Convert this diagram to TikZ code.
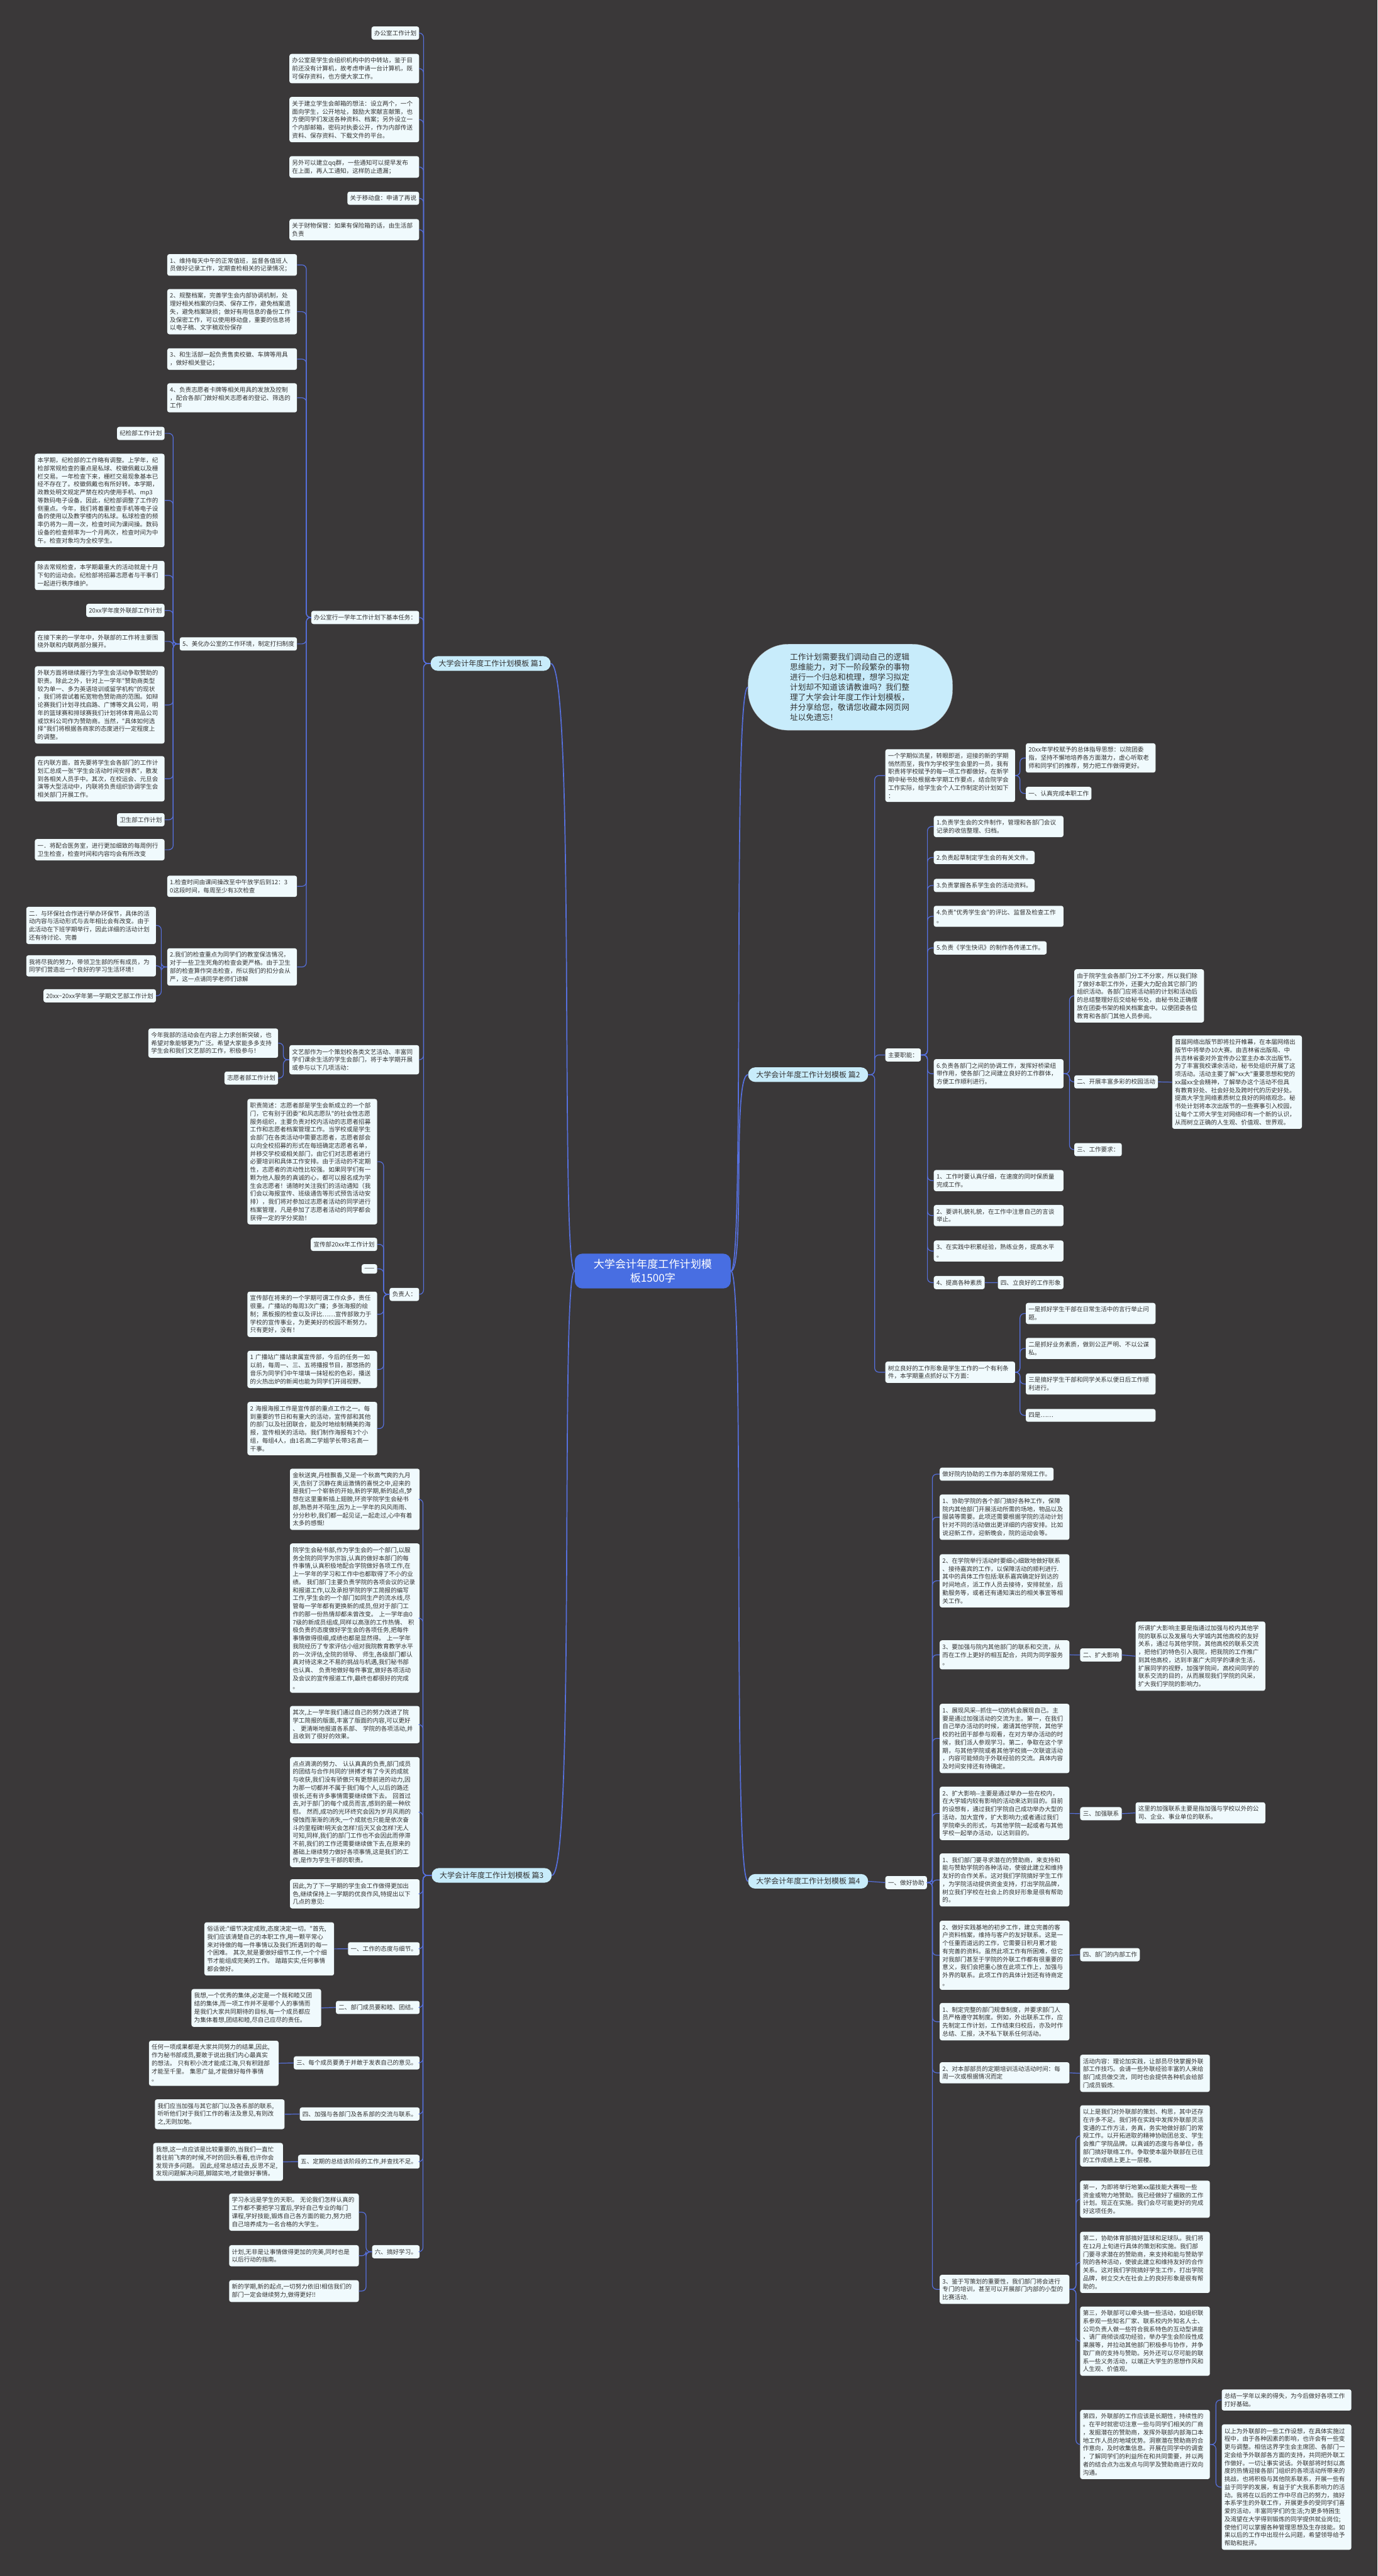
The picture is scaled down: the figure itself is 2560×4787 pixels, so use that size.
\documentclass[tikz,border=0pt]{standalone}
\usepackage{fontspec}
\newfontfamily\cjk{Noto Sans CJK SC}
\usepackage{tikz}
\usetikzlibrary{calc}
\definecolor{bgDark}{RGB}{58,56,57}
\definecolor{leafFill}{RGB}{240,250,253}
\definecolor{branchFill}{RGB}{200,236,251}
\definecolor{rootBlue}{RGB}{72,110,226}
\definecolor{linkBlue}{RGB}{86,112,222}
\definecolor{inkGray}{RGB}{51,51,51}

\begin{document}
\begin{tikzpicture}[x=1pt, y=-1pt,
  leaf/.style={fill=leafFill, text=inkGray, rounded corners=4pt, inner xsep=5pt, inner ysep=7pt,
    align=left, font=\cjk\fontsize{11.2}{14.9}\selectfont},
  para/.style={leaf, text width=231pt},
  branch/.style={fill=branchFill, text=inkGray, rounded corners=13pt, inner xsep=15pt, inner ysep=7pt,
    font=\cjk\fontsize{14}{17}\selectfont},
  root/.style={fill=rootBlue, text=white, rounded corners=14pt, inner xsep=35pt, inner ysep=10pt,
    align=center, font=\cjk\fontsize{20}{26}\selectfont},
  bubble/.style={fill=branchFill, draw=gray!60, text=inkGray, rounded corners=75pt, text width=224pt,
    inner xsep=78pt, inner ysep=17pt, align=left, font=\cjk\fontsize{14.8}{18.7}\selectfont},
  link/.style={draw=linkBlue, line width=1.4pt, rounded corners=8pt},
  mainlink/.style={draw=linkBlue, line width=2pt}]

  \fill[bgDark] (0,0) rectangle (2560,4787);

  % Root, intro and the four branches
  \node[root] (cn) at (1213,2362) {大学会计年度工作计划模\\板1500字};
  \node[bubble] (bub) at (1580,1277) {工作计划需要我们调动自己的逻辑\\思维能力，对下一阶段繁杂的事物\\进行一个归总和梳理，想学习拟定\\计划却不知道该请教谁吗？我们整\\理了大学会计年度工作计划模板，\\并分享给您，敬请您收藏本网页网\\址以免遗忘！};
  \node[branch, anchor=west] (b1) at (800,1233) {大学会计年度工作计划模板 篇1};
  \node[branch, anchor=west] (b2) at (1390,1997) {大学会计年度工作计划模板 篇2};
  \node[branch, anchor=west] (b3) at (802,3485) {大学会计年度工作计划模板 篇3};
  \node[branch, anchor=west] (b4) at (1390,3496) {大学会计年度工作计划模板 篇4};

  % Branch 1: office
  \node[leaf, anchor=north east] (o1) at (779,49) {办公室工作计划};
  \node[para, anchor=north east] (o2) at (779,100) {办公室是学生会组织机构中的中转站，鉴于目\\前还没有计算机，故考虑申请一台计算机，既\\可保存资料，也方便大家工作。};
  \node[para, anchor=north east] (o3) at (779,180) {关于建立学生会邮箱的想法：设立两个，一个\\面向学生，公开地址，鼓励大家献言献策，也\\方便同学们发送各种资料、档案；另外设立一\\个内部邮箱，密码对执委公开，作为内部传送\\资料、保存资料、下载文件的平台。};
  \node[para, anchor=north east] (o4) at (779,290) {另外可以建立qq群，一些通知可以提早发布\\在上面，再人工通知，这样防止遗漏；};
  \node[leaf, anchor=north east] (o5) at (779,356) {关于移动盘：申请了再说};
  \node[para, anchor=north east] (o6) at (779,407) {关于财物保管：如果有保险箱的话，由生活部\\负责};
  \node[leaf, anchor=north east] (o7) at (779,1135) {办公室行一学年工作计划下基本任务：};
  \node[para, anchor=north east] (o8) at (779,1942) {文艺部作为一个策划校各类文艺活动、丰富同\\学们课余生活的学生会部门，将于本学期开展\\或参与以下几项活动：};
  \node[leaf, anchor=north east] (o9) at (779,2393) {负责人：};

  \node[para, anchor=north east] (t1) at (552,472) {1、维持每天中午的正常值班，监督各值班人\\员做好记录工作，定期查检相关的记录情况；};
  \node[para, anchor=north east] (t2) at (552,537) {2、规整档案，完善学生会内部协调机制，处\\理好相关档案的归类、保存工作，避免档案遗\\失，避免档案缺损；做好有用信息的备份工作\\及保密工作，可以使用移动盘，重要的信息将\\以电子稿、文字稿双份保存};
  \node[para, anchor=north east] (t3) at (552,647) {3、和生活部一起负责售卖校徽、车牌等用具\\，做好相关登记；};
  \node[para, anchor=north east] (t4) at (552,712) {4、负责志愿者卡牌等相关用具的发放及控制\\，配合各部门做好相关志愿者的登记、筛选的\\工作};
  \node[leaf, anchor=north east] (t5) at (552,1184) {5、美化办公室的工作环境，制定打扫制度};
  \node[para, anchor=north east] (t6) at (552,1627) {1.检查时间由课间操改至中午放学后到12：3\\0这段时间，每周至少有3次检查};
  \node[para, anchor=north east] (t7) at (552,1762) {2.我们的检查重点为同学们的教室保洁情况，\\对于一些卫生死角的检查会更严格。由于卫生\\部的检查算作突击检查，所以我们的扣分会从\\严，这一点请同学老师们谅解};

  \node[leaf, anchor=north east] (f1) at (306,793) {纪检部工作计划};
  \node[para, anchor=north east] (f2) at (306,843) {本学期，纪检部的工作略有调整。上学年，纪\\检部常规检查的重点是私球、校徽佩戴以及栅\\栏交易。一年检查下来，栅栏交易现象基本已\\经不存在了。校徽佩戴也有所好转。本学期，\\政教处明文规定严禁在校内使用手机、mp3\\等数码电子设备。因此，纪检部调整了工作的\\侧重点。今年，我们将着重检查手机等电子设\\备的使用以及教学楼内的私球。私球检查的频\\率仍将为一周一次，检查时间为课间操。数码\\设备的检查频率为一个月两次，检查时间为中\\午。检查对象均为全校学生。};
  \node[para, anchor=north east] (f3) at (306,1042) {除去常规检查，本学期最重大的活动就是十月\\下旬的运动会。纪检部将招募志愿者与干事们\\一起进行秩序维护。};
  \node[leaf, anchor=north east] (f4) at (306,1122) {20xx学年度外联部工作计划};
  \node[para, anchor=north east] (f5) at (306,1172) {在接下来的一学年中，外联部的工作将主要围\\绕外联和内联两部分展开。};
  \node[para, anchor=north east] (f6) at (306,1238) {外联方面将继续履行为学生会活动争取赞助的\\职责。除此之外，针对上一学年"赞助商类型\\较为单一、多为英语培训或留学机构"的现状\\，我们将尝试着拓宽物色赞助商的范围。如辩\\论赛我们计划寻找启路、广博等文具公司，明\\年的篮球赛和排球赛我们计划将体育用品公司\\或饮料公司作为赞助商。当然，"具体如何选\\择"我们将根据各商家的态度进行一定程度上\\的调整。};
  \node[para, anchor=north east] (f7) at (306,1405) {在内联方面，首先要将学生会各部门的工作计\\划汇总成一张"学生会活动时间安排表"，散发\\到各相关人员手中。其次，在校运会、元旦会\\演等大型活动中，内联将负责组织协调学生会\\相关部门开展工作。};
  \node[leaf, anchor=north east] (f8) at (306,1511) {卫生部工作计划};
  \node[para, anchor=north east] (f9) at (306,1559) {一．将配合医务室，进行更加细致的每周例行\\卫生检查，检查时间和内容均会有所改变};

  \node[para, anchor=north east] (w1) at (290,1685) {二．与环保社合作进行举办环保节，具体的活\\动内容与活动形式与去年相比会有改变。由于\\此活动在下班学期举行，因此详细的活动计划\\还有待讨论、完善};
  \node[para, anchor=north east] (w2) at (290,1775) {我将尽我的努力，带领卫生部的所有成员，为\\同学们营造出一个良好的学习生活环境！};
  \node[leaf, anchor=north east] (w3) at (290,1838) {20xx\textasciitilde 20xx学年第一学期文艺部工作计划};

  \node[para, anchor=north east] (v1) at (517,1911) {今年我部的活动会在内容上力求创新突破，也\\希望对象能够更为广泛。希望大家能多多支持\\学生会和我们文艺部的工作，积极参与！};
  \node[leaf, anchor=north east] (v2) at (517,1991) {志愿者部工作计划};

  \node[para, anchor=north east] (r1) at (701,2042) {职责简述：志愿者部是学生会新成立的一个部\\门，它有别于团委"和风志愿队"的社会性志愿\\服务组织，主要负责对校内活动的志愿者招募\\工作和志愿者档案管理工作。当学校或是学生\\会部门在各类活动中需要志愿者，志愿者部会\\以向全校招募的形式在每班确定志愿者名单，\\并移交学校或相关部门，由它们对志愿者进行\\必要培训和具体工作安排。由于活动的不定期\\性，志愿者的流动性比较强。如果同学们有一\\颗为他人服务的真诚的心，都可以报名成为学\\生会志愿者！请随时关注我们的活动通知（我\\们会以海报宣传、班级通告等形式预告活动安\\排），我们将对参加过志愿者活动的同学进行\\档案管理，凡是参加了志愿者活动的同学都会\\获得一定的学分奖励！};
  \node[leaf, anchor=north east] (r2) at (701,2300) {宣传部20xx年工作计划};
  \node[leaf, anchor=north east] (r3) at (701,2349) {——};
  \node[para, anchor=north east] (r4) at (701,2400) {宣传部在将来的一个学期可谓工作众多，责任\\很重。广播站的每周3次广播；多张海报的绘\\制；黑板报的检查以及评比……宣传部致力于\\学校的宣传事业，为更美好的校园不断努力。\\只有更好，没有！};
  \node[para, anchor=north east] (r5) at (701,2510) {1 广播站广播站隶属宣传部，今后的任务一如\\以前，每周一、三、五将播报节目，那悠扬的\\音乐为同学们中午增填一抹轻松的色彩，播送\\的火热出炉的新闻也能为同学们开阔视野。};
  \node[para, anchor=north east] (r6) at (701,2605) {2 海报海报工作是宣传部的重点工作之一。每\\到重要的节日和有重大的活动，宣传部和其他\\的部门以及社团联合，能及时地绘制精美的海\\报，宣传相关的活动。我们制作海报有3个小\\组，每组4人，由1名高二学姐学长带3名高一\\干事。};

  % Branch 3: secretariat
  \node[para, anchor=north east] (s1) at (780,2729) {金秋送爽,丹桂飘香,又是一个秋高气爽的九月\\天,告别了沉静在奥运激情的喜悦之中,迎来的\\是我们一个崭新的开始,新的学期,新的起点,梦\\想在这里重新插上翅膀,环资学院学生会秘书\\部,熟悉并不陌生,因为上一学年的风风雨雨、\\分分秒秒,我们都一起见证,一起走过,心中有着\\太多的感慨!};
  \node[para, anchor=north east] (s2) at (780,2868) {院学生会秘书部,作为学生会的一个部门,以服\\务全院的同学为宗旨,认真的做好本部门的每\\件事情,认真积极地配合学院做好各项工作,在\\上一学年的学习和工作中也都取得了不小的业\\绩。 我们部门主要负责学院的各项会议的记录\\和报道工作,以及承担学院的学工简报的编写\\工作,学生会的一个部门如同生产的流水线,尽\\管每一学年都有更换新的成员,但对于部门工\\作的那一份热情却都未曾改变。 上一学年由0\\7级的新成员组成,同样以高涨的工作热情、 积\\极负责的态度做好学生会的各项任务,把每件\\事情做得很细,成绩也都是显然得。 上一学年\\我院经历了专家评估小组对我院教育教学水平\\的一次评估,全院的领导、 师生,各级部门都认\\真对待这来之不易的挑战与机遇,我们秘书部\\也认真、 负责地做好每件事宜,做好各项活动\\及会议的宣传报道工作,最终也都很好的完成\\。};
  \node[para, anchor=north east] (s3) at (780,3170) {其次,上一学年我们通过自己的努力改进了院\\学工简报的版面,丰富了版面的内容,可以更好\\、 更清晰地报道各系部、 学院的各项活动,并\\且收到了很好的效果。};
  \node[para, anchor=north east] (s4) at (780,3265) {点点滴滴的努力、 认认真真的负责,部门成员\\的团结与合作共同的'拼搏才有了今天的成就\\与收获,我们没有骄傲只有更想前进的动力,因\\为那一切都并不属于我们每个人,以后的路还\\很长,还有许多事情需要继续做下去。 回首过\\去,对于部门的每个成员而言,感到的是一种欣\\慰。 然而,成功的光环终究会因为岁月风雨的\\侵蚀而渐渐的消失,一个成就也只能是依次奋\\斗的里程碑!明天会怎样?后天又会怎样?无人\\可知,同样,我们的部门工作也不会因此而停滞\\不前,我们的工作还需要继续做下去,在原来的\\基础上继续努力做好各项事情,这是我们的工\\作,是作为学生干部的职责。};
  \node[para, anchor=north east] (s5) at (780,3492) {因此,为了下一学期的学生会工作做得更加出\\色,继续保持上一学期的优良作风,特提出以下\\几点的意见:};
  \node[leaf, anchor=north east] (s6) at (780,3609) {一、工作的态度与细节。};
  \node[leaf, anchor=north east] (s7) at (780,3718) {二、部门成员要和睦、团结。};
  \node[leaf, anchor=north east] (s8) at (780,3821) {三、每个成员要勇于并敢于发表自己的意见。};
  \node[leaf, anchor=north east] (s9) at (780,3916) {四、加强与各部门及各系部的交流与联系。};
  \node[leaf, anchor=north east] (s10) at (780,4004) {五、定期的总结该阶段的工作,并查找不足。};
  \node[leaf, anchor=north east] (s11) at (780,4172) {六、搞好学习。};

  \node[para, anchor=north east] (g6) at (621,3572) {俗话说:"细节决定成败,态度决定一切。"首先,\\我们应该清楚自己的本职工作,用一颗平常心\\来对待做的每一件事情以及我们所遇到的每一\\个困难。 其次,就是要做好细节工作,一个个细\\节才能组成完美的工作。 踏踏实实,任何事情\\都会做好。};
  \node[para, anchor=north east] (g7) at (597,3696) {我想,一个优秀的集体,必定是一个既和睦又团\\结的集体,而一项工作并不是哪个人的事情而\\是我们大家共同期待的目标,每一个成员都应\\为集体着想,团结和睦,尽自己应尽的责任。};
  \node[para, anchor=north east] (g8) at (518,3792) {任何一项成果都是大家共同努力的结果,因此,\\作为秘书部成员,要敢于说出我们内心最真实\\的想法。 只有积小流才能成江海,只有积跬部\\才能至千里。 集思广益,才能做好每件事情\\。};
  \node[para, anchor=north east] (g9) at (529,3901) {我们应当加强与其它部门以及各系部的联系,\\听听他们对于我们工作的看法及意见,有则改\\之,无则加勉。};
  \node[para, anchor=north east] (g10) at (526,3982) {我想,这一点应该是比较重要的,当我们一直忙\\着往前飞奔的时候,不时的回头看看,也许你会\\发现许多问题。 因此,经常总结过去,反思不足,\\发现问题解决问题,脚踏实地,才能做好事情。};
  \node[para, anchor=north east] (h1) at (667,4076) {学习永远是学生的天职。 无论我们怎样认真的\\工作都不要把学习置后,学好自己专业的每门\\课程,学好技能,锻炼自己各方面的能力,努力把\\自己培养成为一名合格的大学生。};
  \node[para, anchor=north east] (h2) at (667,4172) {计划,无非是让事情做得更加的完美,同时也是\\以后行动的指南。};
  \node[para, anchor=north east] (h3) at (667,4237) {新的学期,新的起点,一切努力依旧!相信我们的\\部门一定会继续努力,做得更好!!};

  % Branch 2: secretary office duties
  \node[para, anchor=north west] (p1) at (1645,1392) {一个学期似流星，转眼即逝，迎接的新的学期\\悄然而至，我作为学校学生会里的一员，我有\\职责将学校赋予的每一项工作都做好。在新学\\期中秘书处根据本学期工作要点，结合院学会\\工作实际，给学生会个人工作制定的计划如下\\：};
  \node[leaf, anchor=north west] (p2) at (1645,1948) {主要职能：};
  \node[para, anchor=north west] (p3) at (1645,2530) {树立良好的工作形象是学生工作的一个有利条\\件，本学期重点抓好以下方面：};

  \node[para, anchor=north west] (q1) at (1906,1381) {20xx年学校赋予的总体指导思想：以院团委\\指，坚持不懈地培养各方面潜力，虚心听取老\\师和同学们的推荐，努力把工作做得更好。};
  \node[leaf, anchor=north west] (q2) at (1906,1462) {一、认真完成本职工作};

  \node[para, anchor=north west] (m1) at (1735,1516) {1.负责学生会的文件制作，管理和各部门会议\\记录的收信整理、归档。};
  \node[leaf, anchor=north west] (m2) at (1735,1581) {2.负责起草制定学生会的有关文件。};
  \node[leaf, anchor=north west] (m3) at (1735,1633) {3.负责掌握各系学生会的活动资料。};
  \node[para, anchor=north west] (m4) at (1735,1683) {4.负责"优秀学生会"的评比、监督及检查工作\\。};
  \node[leaf, anchor=north west] (m5) at (1735,1749) {5.负责《学生快讯》的制作各传递工作。};
  \node[para, anchor=north west] (m6) at (1735,1968) {6.负责各部门之间的协调工作，发挥好桥梁纽\\带作用，使各部门之间建立良好的工作群体，\\方便工作顺利进行。};
  \node[para, anchor=north west] (m7) at (1735,2174) {1、工作时要认真仔细，在速度的同时保质量\\完成工作。};
  \node[para, anchor=north west] (m8) at (1735,2239) {2、要讲礼貌礼貌，在工作中注意自己的言谈\\举止。};
  \node[para, anchor=north west] (m9) at (1735,2305) {3、在实践中积累经验，熟练业务，提高水平\\。};
  \node[leaf, anchor=north west] (m10) at (1735,2371) {4、提高各种素质};
  \node[leaf, anchor=north west] (m11) at (1854,2371) {四、立良好的工作形象};

  \node[para, anchor=north west] (k1) at (1996,1801) {由于院学生会各部门分工不分家，所以我们除\\了做好本职工作外，还要大力配合其它部门的\\组织活动。各部门应将活动前的计划和活动后\\的总结整理好后交给秘书处，由秘书处正确摆\\放在团委书架的相关档案盒中。以便团委各位\\教育和各部门其他人员参阅。};
  \node[leaf, anchor=north west] (k2) at (1996,1998) {二、开展丰富多彩的校园活动};
  \node[leaf, anchor=north west] (k3) at (1996,2124) {三、工作要求：};
  \node[para, anchor=north west] (k4) at (2178,1924) {首届网络出版节即将拉开帷幕，在本届网络出\\版节中将举办10大赛。由吉林省出版局、中\\共吉林省委对外宣传办公室主办本次出版节。\\为了丰富我校课余活动，秘书处组织开展了这\\项活动。活动主要了解"xx大"重要思想和党的\\xx届xx全会精神，了解举办这个活动不但具\\有教育好处、社会好处及跨时代的历史好处。\\提高大学生网络素质树立良好的网络观念。秘\\书处计划将本次出版节的一些赛事引入校园，\\让每个工师大学生对网络印有一个新的认识，\\从而树立正确的人生观、价值观、世界观。};

  \node[para, anchor=north west] (u1) at (1906,2421) {一是抓好学生干部在日常生活中的言行举止问\\题。};
  \node[para, anchor=north west] (u2) at (1906,2486) {二是抓好业务素质，做到公正严明、不以公谋\\私。};
  \node[para, anchor=north west] (u3) at (1906,2552) {三是搞好学生干部和同学关系以便日后工作顺\\利进行。};
  \node[para, anchor=north west] (u4) at (1906,2618) {四是……};

  % Branch 4: liaison department
  \node[leaf, anchor=north west] (a0) at (1645,3486) {一、做好协助};
  \node[leaf, anchor=north west] (a1) at (1746,2727) {做好院内协助的工作为本部的常规工作。};
  \node[para, anchor=north west] (a2) at (1746,2777) {1、协助学院的各个部门搞好各种工作，保障\\院内其他部门开展活动所需的场地，物品以及\\服装等需要。此项还需要根据学院的活动计划\\针对不同的活动做出更详细的内容安排。比如\\说迎新工作，迎新晚会，院的运动会等。};
  \node[para, anchor=north west] (a3) at (1746,2888) {2、在学院举行活动时要细心细致地做好联系\\、接待嘉宾的工作，以保障活动的顺利进行.\\其中的具体工作包括:联系嘉宾确定好到达的\\时间地点，派工作人员去接待，安排就坐，后\\勤服务等，或者还有通知演出的相关事宜等相\\关工作。};
  \node[para, anchor=north west] (a4) at (1746,3048) {3、要加强与院内其他部门的联系和交流，从\\而在工作上更好的相互配合，共同为同学服务\\。};
  \node[para, anchor=north west] (a5) at (1746,3166) {1、展现风采--抓住一切的机会展现自己。主\\要是通过加强活动的交流为主。第一，在我们\\自己举办活动的时候，邀请其他学院，其他学\\校的社团干部参与观看，在对方举办活动的时\\候，我们派人参观学习。第二，争取在这个学\\期，与其他学院或者其他学校搞一次联谊活动\\，内容可能倾向于外联经验的交流。具体内容\\及时间安排还有待确定。};
  \node[para, anchor=north west] (a6) at (1746,3320) {2、扩大影响--主要是通过举办一些在校内，\\在大学城内较有影响的活动来达到目的。目前\\的设想有，通过我们学院自己成功举办大型的\\活动，加大宣传，扩大影响力;或者通过我们\\学院牵头的形式，与其他学院一起或者与其他\\学校一起举办活动，以达到目的。};
  \node[para, anchor=north west] (a7) at (1746,3444) {1、我们部门要寻求潜在的赞助商，来支持和\\能与赞助学院的各种活动，使彼此建立和维持\\友好的合作关系。这对我们学院搞好学生工作\\，为学院活动提供资金支持，打出学院品牌，\\树立我们学校在社会上的良好形象是很有帮助\\的。};
  \node[para, anchor=north west] (a8) at (1746,3569) {2、做好实践基地的初步工作，建立完善的客\\户资料档案，维持与客户的友好联系。这是一\\个任重而道远的工作，它需要日积月累才能\\有完善的资料。虽然此项工作有所困难，但它\\对我部门甚至于学院的外联工作都有很重要的\\意义，我们会把重心放在此项工作上，加强与\\外界的联系。此项工作的具体计划还有待商定\\。};
  \node[para, anchor=north west] (a9) at (1746,3722) {1、制定完整的部门规章制度，并要求部门人\\员严格遵守其制度。例如，外出联系工作，应\\先制定工作计划，工作结束归校后，亦及时作\\总结、汇报，决不私下联系任何活动。};
  \node[para, anchor=north west] (a10) at (1746,3832) {2、对本部部员的定期培训活动活动时间：每\\周一次或根据情况而定};
  \node[para, anchor=north west] (a11) at (1746,4227) {3、鉴于写策划的重要性，我们部门将会进行\\专门的培训，甚至可以开展部门内部的小型的\\比赛活动.};

  \node[leaf, anchor=north west] (d1) at (2007,3063) {二、扩大影响};
  \node[para, anchor=north west] (d2) at (2110,3013) {所谓扩大影响主要是指通过加强与校内其他学\\院的联系以及发展与大学城内其他高校的友好\\关系，通过与其他学院，其他高校的联系交流\\，把他们的特色引入我院，把我院的工作推广\\到其他高校，达到丰富广大同学的课余生活，\\扩展同学的视野，加强学院间，高校间同学的\\联系交流的目的，从而展现我们学院的风采，\\扩大我们学院的影响力。};
  \node[leaf, anchor=north west] (d3) at (2007,3358) {三、加强联系};
  \node[para, anchor=north west] (d4) at (2110,3349) {这里的加强联系主要是指加强与学校以外的公\\司、企业、事业单位的联系。};
  \node[leaf, anchor=north west] (d5) at (2007,3620) {四、部门的内部工作};
  \node[para, anchor=north west] (d6) at (2007,3818) {活动内容：理论加实践，让部员尽快掌握外联\\部工作技巧。会请一些外联经验丰富的人来给\\部门成员做交流，同时也会提供各种机会给部\\门成员锻炼.};

  \node[para, anchor=north west] (e1) at (2007,3912) {以上是我们对外联部的策划、构思，其中还存\\在许多不足。我们将在实践中发挥外联部灵活\\变通的工作方法，务真，务实地做好部门的常\\规工作。以开拓进取的精神协助团总支、学生\\会推广学院品牌。以真诚的态度与各单位，各\\部门搞好联络工作。争取使本届外联部在已往\\的工作成绩上更上一层楼。};
  \node[para, anchor=north west] (e2) at (2007,4052) {第一，为即将举行地第xx届技能大赛啦一些\\资金或物力地赞助。我已经做好了细致的工作\\计划。现正在实施。我们会尽可能更好的完成\\好这项任务。};
  \node[para, anchor=north west] (e3) at (2007,4147) {第二，协助体育部搞好篮球和足球队。我们将\\在12月上旬进行具体的策划和实施。我们部\\门要寻求潜在的赞助商，来支持和能与赞助学\\院的各种活动，使彼此建立和维持友好的合作\\关系。这对我们学院搞好学生工作，打出学院\\品牌，树立交大在社会上的良好形象是很有帮\\助的。};
  \node[para, anchor=north west] (e4) at (2007,4286) {第三，外联部可以牵头搞一些活动，如组织联\\系参观一些知名厂家、联系校内外知名人士、\\公司负责人做一些符合我系特色的互动型讲座\\、请厂商倾谈成功经验，举办学生会阶段性成\\果展等，并拉动其他部门积极参与协作，并争\\取厂商的支持与赞助。另外还可以尽可能的联\\系一些义务活动，以端正大学生的思想作风和\\人生观、价值观。};
  \node[para, anchor=north west] (e5) at (2007,4478) {第四，外联部的工作应该是长期性，持续性的\\。在平时就密切注意一些与同学们相关的厂商\\，发掘潜在的赞助商，发挥外联部内部海口本\\地工作人员的地域优势。洞察潜在赞助商的合\\作意向，及时收集信息。开展在同学中的调查\\，了解同学们的利益所在和共同需要，并以两\\者的结合点为出发点与同学及赞助商进行双向\\沟通。};
  \node[para, anchor=north west] (x1) at (2270,4440) {总结一学年以来的得失，为今后做好各项工作\\打好基础。};
  \node[para, anchor=north west] (x2) at (2270,4505) {以上为外联部的一些工作设想，在具体实施过\\程中，由于各种因素的影响，也许会有一些变\\更与调整。相信这界学生会主席团、各部门一\\定会给予外联部各方面的支持，共同把外联工\\作做好。一切让事实说话。外联部将时刻以高\\度的热情迎接各部门组织的各项活动所带来的\\挑战，也将积极与其他院系联系，开展一些有\\益于同学的发展，有益于扩大我系影响力的活\\动。我将在以后的工作中尽自己的努力，搞好\\本系学生的外联工作，开展更多的受同学们喜\\爱的活动，丰富同学们的生活;为更多特困生\\及渴望在大学得到锻炼的同学提供就业岗位;\\使他们可以掌握各种管理思想及生存技能。如\\果以后的工作中出现什么问题，希望领导给予\\帮助和批评。};

  % Root curves
  \draw[mainlink] (cn.west) .. controls (1040,2362) and (1070,1233) .. (b1.east);
  \draw[mainlink] (cn.west) .. controls (1040,2362) and (1070,3485) .. (b3.east);
  \draw[mainlink] (cn.east) .. controls (1385,2362) and (1360,1277) .. (bub.west);
  \draw[mainlink] (cn.east) .. controls (1385,2362) and (1360,1997) .. (b2.west);
  \draw[mainlink] (cn.east) .. controls (1385,2362) and (1360,3496) .. (b4.west);

  % Branch 1 links
  \draw[link] (b1.west) -- ++(-13,0) |- (o1.east);
  \draw[link] (b1.west) -- ++(-13,0) |- (o2.east);
  \draw[link] (b1.west) -- ++(-13,0) |- (o3.east);
  \draw[link] (b1.west) -- ++(-13,0) |- (o4.east);
  \draw[link] (b1.west) -- ++(-13,0) |- (o5.east);
  \draw[link] (b1.west) -- ++(-13,0) |- (o6.east);
  \draw[link] (b1.west) -- ++(-13,0) |- (o7.east);
  \draw[link] (b1.west) -- ++(-13,0) |- (o8.east);
  \draw[link] (b1.west) -- ++(-13,0) |- (o9.east);
  \draw[link] (o7.west) -- ++(-9,0) |- (t1.east);
  \draw[link] (o7.west) -- ++(-9,0) |- (t2.east);
  \draw[link] (o7.west) -- ++(-9,0) |- (t3.east);
  \draw[link] (o7.west) -- ++(-9,0) |- (t4.east);
  \draw[link] (o7.west) -- ++(-9,0) |- (t5.east);
  \draw[link] (o7.west) -- ++(-9,0) |- (t6.east);
  \draw[link] (o7.west) -- ++(-9,0) |- (t7.east);
  \draw[link] (t5.west) -- ++(-12,0) |- (f1.east);
  \draw[link] (t5.west) -- ++(-12,0) |- (f2.east);
  \draw[link] (t5.west) -- ++(-12,0) |- (f3.east);
  \draw[link] (t5.west) -- ++(-12,0) |- (f4.east);
  \draw[link] (t5.west) -- ++(-12,0) |- (f5.east);
  \draw[link] (t5.west) -- ++(-12,0) |- (f6.east);
  \draw[link] (t5.west) -- ++(-12,0) |- (f7.east);
  \draw[link] (t5.west) -- ++(-12,0) |- (f8.east);
  \draw[link] (t5.west) -- ++(-12,0) |- (f9.east);
  \draw[link] (t7.west) -- ++(-11,0) |- (w1.east);
  \draw[link] (t7.west) -- ++(-11,0) |- (w2.east);
  \draw[link] (t7.west) -- ++(-11,0) |- (w3.east);
  \draw[link] (o8.west) -- ++(-11,0) |- (v1.east);
  \draw[link] (o8.west) -- ++(-11,0) |- (v2.east);
  \draw[link] (o9.west) -- ++(-11,0) |- (r1.east);
  \draw[link] (o9.west) -- ++(-11,0) |- (r2.east);
  \draw[link] (o9.west) -- ++(-11,0) |- (r3.east);
  \draw[link] (o9.west) -- ++(-11,0) |- (r4.east);
  \draw[link] (o9.west) -- ++(-11,0) |- (r5.east);
  \draw[link] (o9.west) -- ++(-11,0) |- (r6.east);

  % Branch 3 links
  \draw[link] (b3.west) -- ++(-16,0) |- (s1.east);
  \draw[link] (b3.west) -- ++(-16,0) |- (s2.east);
  \draw[link] (b3.west) -- ++(-16,0) |- (s3.east);
  \draw[link] (b3.west) -- ++(-16,0) |- (s4.east);
  \draw[link] (b3.west) -- ++(-16,0) |- (s5.east);
  \draw[link] (b3.west) -- ++(-16,0) |- (s6.east);
  \draw[link] (b3.west) -- ++(-16,0) |- (s7.east);
  \draw[link] (b3.west) -- ++(-16,0) |- (s8.east);
  \draw[link] (b3.west) -- ++(-16,0) |- (s9.east);
  \draw[link] (b3.west) -- ++(-16,0) |- (s10.east);
  \draw[link] (b3.west) -- ++(-16,0) |- (s11.east);
  \draw[link] (s6.west) -- (g6.east);
  \draw[link] (s7.west) -- (g7.east);
  \draw[link] (s8.west) -- (g8.east);
  \draw[link] (s9.west) -- (g9.east);
  \draw[link] (s10.west) -- (g10.east);
  \draw[link] (s11.west) -- ++(-11,0) |- (h1.east);
  \draw[link] (s11.west) -- ++(-11,0) |- (h2.east);
  \draw[link] (s11.west) -- ++(-11,0) |- (h3.east);

  % Branch 2 links
  \draw[link] (b2.east) -- ++(12,0) |- (p1.west);
  \draw[link] (b2.east) -- ++(12,0) |- (p2.west);
  \draw[link] (b2.east) -- ++(12,0) |- (p3.west);
  \draw[link] (p1.east) -- ++(9,0) |- (q1.west);
  \draw[link] (p1.east) -- ++(9,0) |- (q2.west);
  \draw[link] (p2.east) -- ++(12,0) |- (m1.west);
  \draw[link] (p2.east) -- ++(12,0) |- (m2.west);
  \draw[link] (p2.east) -- ++(12,0) |- (m3.west);
  \draw[link] (p2.east) -- ++(12,0) |- (m4.west);
  \draw[link] (p2.east) -- ++(12,0) |- (m5.west);
  \draw[link] (p2.east) -- ++(12,0) |- (m6.west);
  \draw[link] (p2.east) -- ++(12,0) |- (m7.west);
  \draw[link] (p2.east) -- ++(12,0) |- (m8.west);
  \draw[link] (p2.east) -- ++(12,0) |- (m9.west);
  \draw[link] (p2.east) -- ++(12,0) |- (m10.west);
  \draw[link] (m10.east) -- (m11.west);
  \draw[link] (m6.east) -- ++(11,0) |- (k1.west);
  \draw[link] (m6.east) -- ++(11,0) |- (k2.west);
  \draw[link] (m6.east) -- ++(11,0) |- (k3.west);
  \draw[link] (k2.east) -- (k4.west);
  \draw[link] (p3.east) -- ++(9,0) |- (u1.west);
  \draw[link] (p3.east) -- ++(9,0) |- (u2.west);
  \draw[link] (p3.east) -- ++(9,0) |- (u3.west);
  \draw[link] (p3.east) -- ++(9,0) |- (u4.west);

  % Branch 4 links
  \draw[link] (b4.east) -- (a0.west);
  \draw[link] (a0.east) -- ++(10,0) |- (a1.west);
  \draw[link] (a0.east) -- ++(10,0) |- (a2.west);
  \draw[link] (a0.east) -- ++(10,0) |- (a3.west);
  \draw[link] (a0.east) -- ++(10,0) |- (a4.west);
  \draw[link] (a0.east) -- ++(10,0) |- (a5.west);
  \draw[link] (a0.east) -- ++(10,0) |- (a6.west);
  \draw[link] (a0.east) -- ++(10,0) |- (a7.west);
  \draw[link] (a0.east) -- ++(10,0) |- (a8.west);
  \draw[link] (a0.east) -- ++(10,0) |- (a9.west);
  \draw[link] (a0.east) -- ++(10,0) |- (a10.west);
  \draw[link] (a0.east) -- ++(10,0) |- (a11.west);
  \draw[link] (a4.east) -- (d1.west);
  \draw[link] (d1.east) -- (d2.west);
  \draw[link] (a6.east) -- (d3.west);
  \draw[link] (d3.east) -- (d4.west);
  \draw[link] (a8.east) -- (d5.west);
  \draw[link] (a10.east) -- (d6.west);
  \draw[link] (a11.east) -- ++(12,0) |- (e1.west);
  \draw[link] (a11.east) -- ++(12,0) |- (e2.west);
  \draw[link] (a11.east) -- ++(12,0) |- (e3.west);
  \draw[link] (a11.east) -- ++(12,0) |- (e4.west);
  \draw[link] (a11.east) -- ++(12,0) |- (e5.west);
  \draw[link] (e5.east) -- ++(11,0) |- (x1.west);
  \draw[link] (e5.east) -- ++(11,0) |- (x2.west);
\end{tikzpicture}
\end{document}
